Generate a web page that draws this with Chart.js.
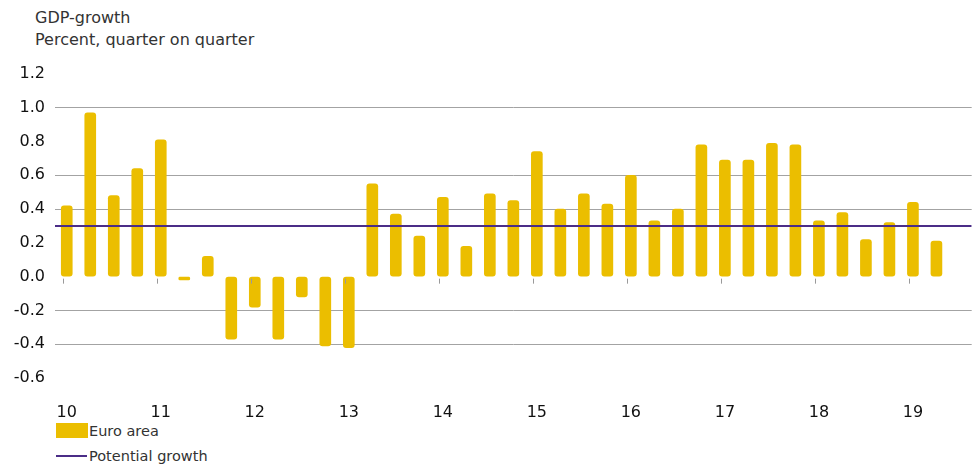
<!DOCTYPE html>
<html>
<head>
<meta charset="utf-8">
<script src="https://cdn.jsdelivr.net/npm/chart.js@4/dist/chart.umd.min.js"></script>
<style>
  body { margin: 0; width: 977px; height: 466px; position: relative; overflow: hidden; background: #fff;
         font-family: "DejaVu Sans", Verdana, sans-serif; color: #333; }
  #title { position: absolute; left: 35px; top: 7px; font-size: 16px; line-height: 22px; }
  #chartBox { position: absolute; left: 0; top: 0; width: 977px; height: 420px; }
  .leg { position: absolute; left: 56px; font-size: 14.5px; height: 16px; line-height: 16px; }
  .leg span.sw { position: absolute; left: 0; }
  .leg span.tx { position: absolute; left: 33px; white-space: nowrap; }
</style>
</head>
<body>
<div id="title">GDP-growth<br>Percent, quarter on quarter</div>
<div id="chartBox"><canvas id="gdpChart" width="977" height="420"></canvas></div>
<div class="leg" style="top:423px"><span class="sw" style="top:0;width:32px;height:15px;background:#EBBE00"></span><span class="tx">Euro area</span></div>
<div class="leg" style="top:448px"><span class="sw" style="top:7px;width:31px;height:2px;background:#4B2D87"></span><span class="tx">Potential growth</span></div>
<script>
// quarters 2010Q1 .. 2019Q3 (last slot empty)
let quarters = [
  "10Q1", "10Q2", "10Q3", "10Q4", "11Q1", "11Q2", "11Q3", "11Q4",
  "12Q1", "12Q2", "12Q3", "12Q4", "13Q1", "13Q2", "13Q3", "13Q4",
  "14Q1", "14Q2", "14Q3", "14Q4", "15Q1", "15Q2", "15Q3", "15Q4",
  "16Q1", "16Q2", "16Q3", "16Q4", "17Q1", "17Q2", "17Q3", "17Q4",
  "18Q1", "18Q2", "18Q3", "18Q4", "19Q1", "19Q2", "19Q3",
];
let euroArea = [
  0.42, 0.97, 0.48, 0.64, 0.81, -0.02, 0.12, -0.37,
  -0.18, -0.37, -0.12, -0.41, -0.42, 0.55, 0.37, 0.24,
  0.47, 0.18, 0.49, 0.45, 0.74, 0.40, 0.49, 0.43,
  0.60, 0.33, 0.40, 0.78, 0.69, 0.69, 0.79, 0.78,
  0.33, 0.38, 0.22, 0.32, 0.44, 0.21, null,
];
let potentialGrowth = 0.3;
let yearLabels = ["10", "11", "12", "13", "14", "15", "16", "17", "18", "19"];
let gridValues = [1.0, 0.6, 0.4, -0.2, -0.4];

let yellow = "#EBBE00";
let purple = "#4B2D87";

// little ticks on the zero line at each year start
let yearTicks = {
  id: "yearTicks",
  afterDatasetsDraw(chart) {
    let ctx = chart.ctx;
    let x = chart.scales.x;
    let y0 = chart.scales.y.getPixelForValue(0);
    ctx.save();
    ctx.strokeStyle = "#9a9a9a";
    ctx.lineWidth = 1;
    quarters.forEach((q, i) => {
      if (!q.endsWith("Q1")) return;
      let px = Math.round(x.getPixelForValue(i) - 4) + 0.5;
      ctx.beginPath();
      ctx.moveTo(px, y0 + 2);
      ctx.lineTo(px, y0 + 7);
      ctx.stroke();
    });
    ctx.restore();
  },
};

let ctx_gdp = document.querySelector("#gdpChart").getContext("2d");

new Chart(ctx_gdp, {
  data: {
    labels: quarters,
    datasets: [
      {
        type: "line",
        label: "Potential growth",
        data: [{ x: 0, y: potentialGrowth }, { x: 1, y: potentialGrowth }],
        xAxisID: "x2",
        borderColor: purple,
        borderWidth: 2,
        pointRadius: 0,
        order: 0,
      },
      {
        type: "bar",
        label: "Euro area",
        data: euroArea,
        backgroundColor: yellow,
        borderRadius: 3,
        borderSkipped: false,
        barThickness: 11,
        grouped: false,
        order: 1,
      },
    ],
  },
  options: {
    responsive: false,
    animation: false,
    layout: { padding: { top: 74, right: 5, left: 0, bottom: 0 } },
    plugins: { legend: { display: false }, tooltip: { enabled: false } },
    scales: {
      x: {
        grid: { display: false },
        border: { display: false },
        ticks: {
          autoSkip: false,
          maxRotation: 0,
          padding: 17,
          color: "#111",
          font: { family: "DejaVu Sans", size: 16 },
          callback: (v, i) => (quarters[i].endsWith("Q1") ? yearLabels[Math.floor(i / 4)] : ""),
        },
        afterFit: (s) => { s.height = 42; },
      },
      x2: { type: "linear", min: 0, max: 1, display: false },
      y: {
        min: -0.6,
        max: 1.2,
        border: { display: false },
        grid: {
          drawTicks: false,
          lineWidth: 1,
          color: (c) => gridValues.some((g) => Math.abs(g - c.tick.value) < 1e-6) ? "#a3a3a3" : "rgba(0,0,0,0)",
        },
        ticks: {
          stepSize: 0.2,
          padding: 10,
          color: "#111",
          font: { family: "DejaVu Sans", size: 16 },
          callback: (v) => (Math.abs(v) < 1e-9 ? "0.0" : v.toFixed(1)),
        },
        afterFit: (s) => { s.width = 55; },
      },
    },
  },
  plugins: [yearTicks],
});
</script>
</body>
</html>
